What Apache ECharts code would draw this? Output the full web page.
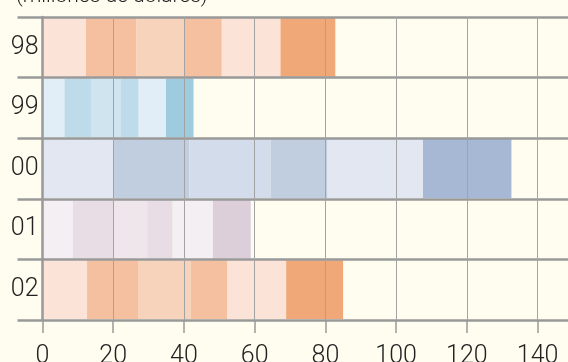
<!DOCTYPE html>
<html><head><meta charset="utf-8">
<script src="https://cdn.jsdelivr.net/npm/echarts@6/dist/echarts.min.js"></script>
<style>html,body{margin:0;padding:0;background:#fffdef;}#c{width:568px;height:362px;}</style>
</head><body><div id="c"></div>
<script>
var categories = ['98', '99', '00', '01', '02'];
var seg1 = [12.3, 6.2, 20.1, 8.6, 12.6];
var seg2 = [14.3, 7.7, 21.4, 11.4, 14.6];
var seg3 = [13.6, 8.3, 23.0, 9.6, 14.7];
var seg4 = [10.5, 5.0, 16.1, 7.2, 10.4];
var seg5 = [16.6, 7.7, 27.0, 11.4, 16.6];
var seg6 = [15.5, 7.8, 25.0, 10.7, 16.1];
var xTicks = [0, 20, 40, 60, 80, 100, 120, 140];
var title = '(millones de dólares)';

// colour per row: [light, medium, lighter, medium, light, dark]
var rowColors = [
  ['#fbe3d7', '#f5c0a0', '#f8d3bb', '#f5c0a0', '#fbe3d7', '#f0a878'],
  ['#e2eef7', '#bedbeb', '#d0e4f0', '#bedbeb', '#e2eef7', '#9ecbde'],
  ['#e3e7f1', '#c1cedf', '#d3dcea', '#c1cedf', '#e3e7f1', '#a6b8d4'],
  ['#f4eff2', '#e8dde4', '#eee6ea', '#e8dde4', '#f4eff2', '#dccfd9'],
  ['#fbe3d7', '#f5c0a0', '#f8d3bb', '#f5c0a0', '#fbe3d7', '#f0a878']
];
var segs = [seg1, seg2, seg3, seg4, seg5, seg6];
var FONT = 'Roboto';
var series = segs.map(function (arr, si) {
  return {
    type: 'bar', stack: 'total', barCategoryGap: '3%',
    data: arr.map(function (v, ri) { return { value: v, itemStyle: { color: rowColors[ri][si] } }; }),
    silent: true
  };
});
var chart = echarts.init(document.getElementById('c'), null, { renderer: 'canvas' });
chart.setOption({
  backgroundColor: '#fffdef',
  animation: false,
  graphic: [{
    type: 'text', left: 16, top: -14, silent: true,
    style: { text: title, fontFamily: FONT, fontWeight: 300, fontSize: 21, fill: '#222' }
  }],
  grid: { left: 42.5, right: 0, top: 17, bottom: 42, containLabel: false, outerBoundsMode: 'none' },
  xAxis: {
    type: 'value', min: 0, max: 148.6, interval: 20, z: 10,
    axisLine: { show: false },
    axisTick: { show: true, length: 13, lineStyle: { color: '#999', width: 1.5 }, customValues: xTicks },
    axisLabel: { margin: 24, fontFamily: FONT, fontWeight: 300, fontSize: 25, color: '#222',
      customValues: xTicks },
    splitLine: { show: true, lineStyle: { color: '#a3a3a3', width: 1 } }
  },
  yAxis: {
    type: 'category', data: categories, inverse: true, z: 10,
    axisLine: { show: true, lineStyle: { color: '#999', width: 2.5 } },
    axisTick: { show: true, length: 25, lineStyle: { color: '#999', width: 2.5 } },
    axisLabel: { margin: 4, fontFamily: FONT, fontWeight: 300, fontSize: 25, color: '#222' },
    splitLine: { show: true, lineStyle: { color: '#999', width: 2.5 } }
  },
  series: series
});
</script></body></html>
